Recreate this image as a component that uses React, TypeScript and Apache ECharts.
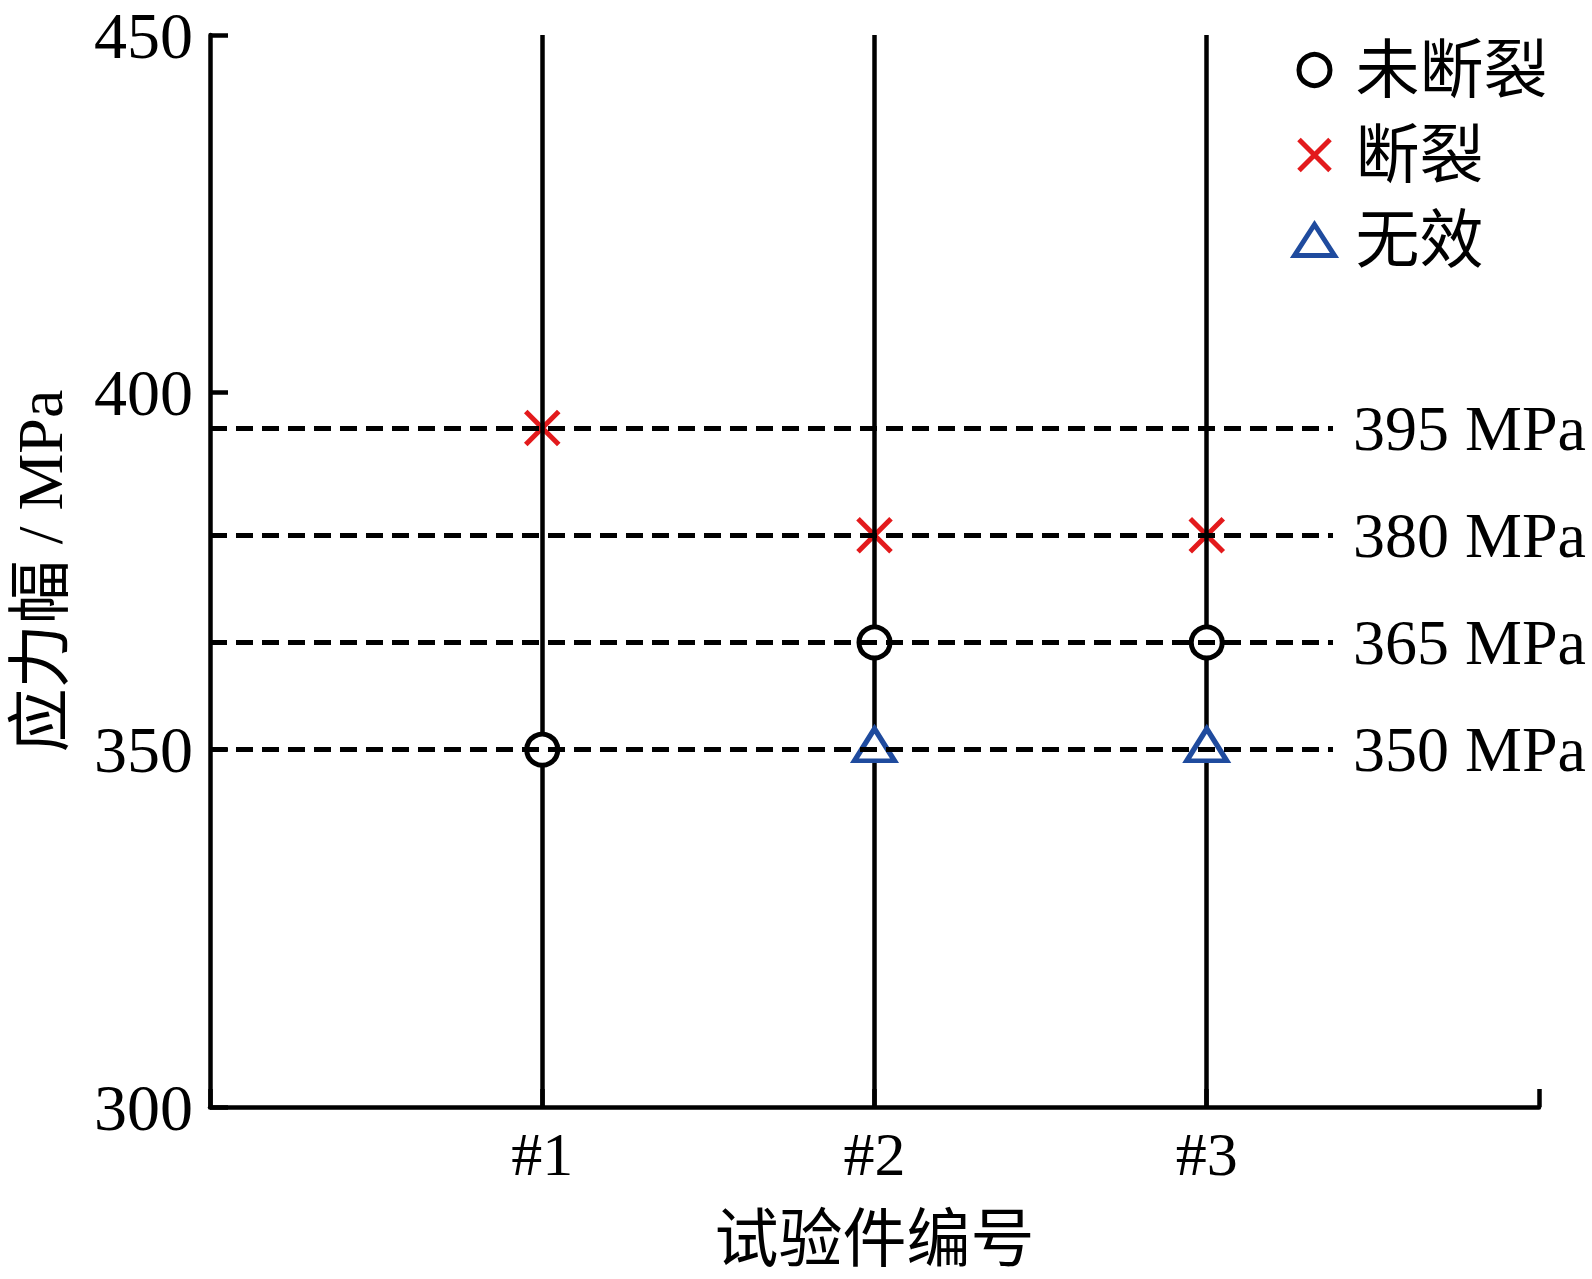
import React, { useEffect, useRef } from 'react';
import * as echarts from 'echarts';

// ---- data ----
const specimenLabels = ['#1', '#2', '#3'];
const specimenPositions = [1, 2, 3];
const stressLevels = [395, 380, 365, 350];
const unbrokenX = [1, 2, 3];
const unbrokenY = [350, 365, 365];
const brokenX = [1, 2, 3];
const brokenY = [395, 380, 380];
const invalidX = [2, 3];
const invalidY = [350, 350];
const seriesNames = ['未断裂', '断裂', '无效'];

// ---- layout / style constants ----
const FONT = "'Liberation Serif', 'Times New Roman', 'Noto Sans CJK SC', serif";
const DASH_END = 3.38;
const RED = '#e31a1c';
const BLUE = '#1f4b9e';
const CROSS = 'path://M0,0L10,10M10,0L0,10';

export default function App() {
  const ref = useRef<HTMLDivElement>(null);

  useEffect(() => {
    document.body.style.margin = '0';
    const chart = echarts.init(ref.current!, undefined, { renderer: 'svg' });
    const zip = (xs: number[], ys: number[]) => xs.map((x, i) => [x, ys[i]]);

    chart.setOption({
      animation: false,
      backgroundColor: '#fff',
      grid: { left: 197, right: 53, top: 35, bottom: 172 },
      legend: {
        orient: 'vertical',
        left: 1287,
        top: 33,
        itemWidth: 40,
        itemHeight: 31,
        itemGap: 21,
        selectedMode: false,
        data: seriesNames,
        itemStyle: { borderWidth: 5 },
        textStyle: {
          fontFamily: FONT,
          fontSize: 64,
          color: '#000',
          lineHeight: 64,
          padding: [0, 0, 0, 16],
        },
      },
      xAxis: {
        type: 'value',
        min: 0,
        max: 4,
        interval: 1,
        name: '试验件编号',
        nameLocation: 'middle',
        nameGap: 100,
        nameTextStyle: { fontFamily: FONT, fontSize: 64, color: '#000' },
        axisLine: { show: true, lineStyle: { color: '#000', width: 4.5 } },
        axisTick: { show: true, inside: true, length: 18, lineStyle: { color: '#000', width: 4.5 } },
        axisLabel: {
          fontFamily: FONT,
          fontSize: 62,
          color: '#000',
          margin: 16,
          formatter: (v: number) => {
            const i = specimenPositions.indexOf(v);
            return i >= 0 ? specimenLabels[i] : '';
          },
        },
        splitLine: { show: false },
      },
      yAxis: {
        type: 'value',
        min: 300,
        max: 450,
        interval: 50,
        name: '应力幅 / MPa',
        nameLocation: 'middle',
        nameRotate: 90,
        nameGap: 138,
        nameTextStyle: { fontFamily: FONT, fontSize: 64, color: '#000' },
        axisLine: { show: true, lineStyle: { color: '#000', width: 4.5 } },
        axisTick: { show: true, inside: true, length: 18, lineStyle: { color: '#000', width: 4.5 } },
        axisLabel: { fontFamily: FONT, fontSize: 66, color: '#000', margin: 17 },
        splitLine: { show: false },
      },
      series: [
        {
          name: '断裂',
          type: 'scatter',
          z: 1,
          symbol: CROSS,
          symbolSize: 33,
          data: zip(brokenX, brokenY),
          itemStyle: { color: 'none', borderColor: RED, borderWidth: 5, opacity: 1 },
        },
        {
          name: 'verticals',
          type: 'scatter',
          z: 2,
          data: [],
          markLine: {
            z: 2,
            silent: true,
            symbol: 'none',
            label: { show: false },
            lineStyle: { color: '#000', width: 4.5, type: 'solid' },
            data: specimenPositions.map((x) => ({ xAxis: x })),
          },
        },
        {
          name: '未断裂',
          type: 'scatter',
          z: 3,
          symbol: 'circle',
          symbolSize: 31,
          data: zip(unbrokenX, unbrokenY),
          itemStyle: { color: '#fff', borderColor: '#000', borderWidth: 5, opacity: 1 },
        },
        {
          name: '无效',
          type: 'scatter',
          z: 3,
          symbol: 'triangle',
          symbolSize: [40, 32],
          symbolOffset: [0, -5],
          data: zip(invalidX, invalidY),
          itemStyle: { color: '#fff', borderColor: BLUE, borderWidth: 5, opacity: 1 },
        },
        {
          name: 'levels',
          type: 'scatter',
          z: 6,
          data: [],
          markLine: {
            z: 6,
            silent: true,
            symbol: 'none',
            lineStyle: { color: '#000', width: 5, type: [17, 9] },
            label: {
              show: true,
              position: 'end',
              distance: 20,
              formatter: '{b}',
              fontFamily: FONT,
              fontSize: 64,
              color: '#000',
            },
            data: stressLevels.map((v) => [
              { coord: [0, v], name: `${v} MPa` },
              { coord: [DASH_END, v] },
            ]),
          },
        },
      ],
    });

    return () => chart.dispose();
  }, []);

  return (
    <div
      ref={ref}
      style={{ position: 'fixed', left: 0, top: 0, width: 1592, height: 1279 }}
    />
  );
}
